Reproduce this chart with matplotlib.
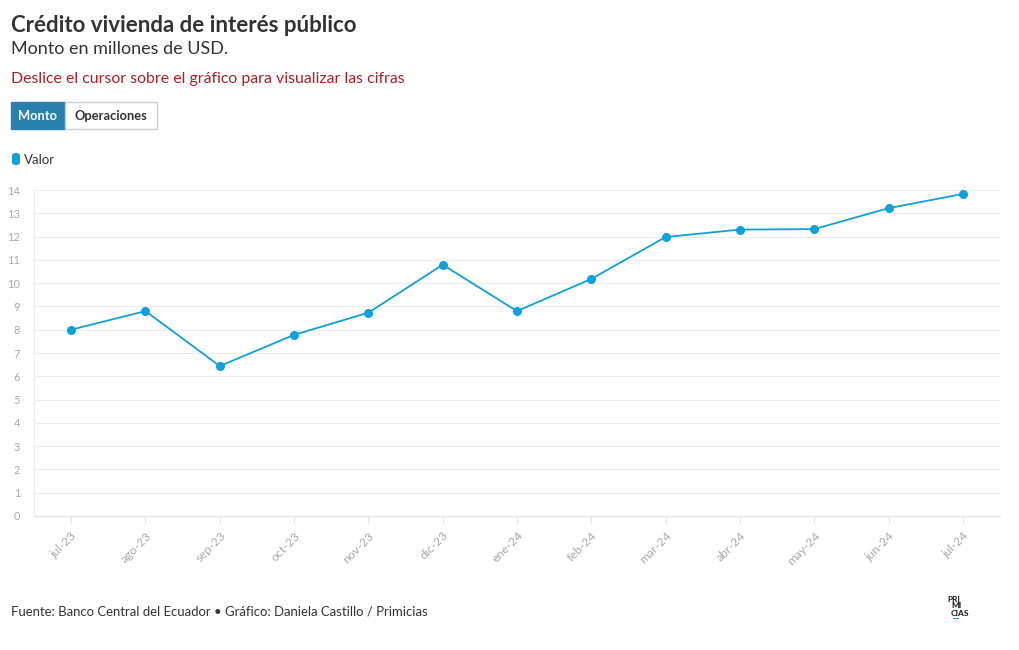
import matplotlib
matplotlib.use("Agg")
import matplotlib.pyplot as plt
from matplotlib.patches import FancyBboxPatch, Rectangle

months = ["jul-23", "ago-23", "sep-23", "oct-23", "nov-23", "dic-23", "ene-24",
          "feb-24", "mar-24", "abr-24", "may-24", "jun-24", "jul-24"]
valor = [8.0, 8.8, 6.44, 7.78, 8.73, 10.79, 8.8, 10.18, 11.98, 12.3, 12.32, 13.22, 13.83]
yticks = list(range(0, 15))

plt.rcParams['font.family'] = ['Lato', 'DejaVu Sans']

W, H = 1020, 650
fig = plt.figure(figsize=(W / 100, H / 100), dpi=100)
fig.patch.set_facecolor("white")

def fx(px):
    return px / W

def fy(py):
    return 1 - py / H

ax = fig.add_axes([fx(34), fy(516), fx(1000) - fx(34), fy(190) - fy(516)])
x = list(range(len(months)))
line_color = "#11a0d8"
ax.plot(x, valor, color=line_color, lw=1.3, marker="o", ms=5.5, mec=line_color, mfc=line_color, zorder=3, clip_on=False)
ax.set_xlim(-0.5, len(months) - 0.5)
ax.set_ylim(0, 14)
ax.set_yticks(yticks)
ax.set_yticklabels([str(v) for v in yticks], color="#aaaaaa", fontsize=8)
ax.set_xticks(x)
ax.set_xticklabels(months, rotation=45, ha="right", rotation_mode="anchor", color="#aaaaaa", fontsize=8.8)
ax.grid(axis="y", color="#ececec", lw=0.8)
ax.set_axisbelow(True)
for s in ["top", "right"]:
    ax.spines[s].set_visible(False)
ax.spines["left"].set_color("#ececec")
ax.spines["bottom"].set_color("#e6e6e6")
ax.tick_params(axis="y", length=0, pad=10)
ax.tick_params(axis="x", length=6, color="#e6e6e6", pad=4)

fig.text(fx(11), fy(25), "Crédito vivienda de interés público", fontsize=16, fontweight="bold",
         color="#333333", va="center", ha="left")
fig.text(fx(11), fy(49), "Monto en millones de USD.", fontsize=13, color="#333333", va="center", ha="left")
fig.text(fx(11), fy(79), "Deslice el cursor sobre el gráfico para visualizar las cifras", fontsize=11.4,
         color="#b01e24", va="center", ha="left")

# buttons
fig.patches.append(Rectangle((fx(11), fy(129)), fx(65) - fx(11), fy(102) - fy(129), transform=fig.transFigure,
                             facecolor="#2a80ad", edgecolor="#2a80ad", lw=1))
fig.patches.append(Rectangle((fx(65), fy(129)), fx(157) - fx(65), fy(102) - fy(129), transform=fig.transFigure,
                             facecolor="white", edgecolor="#cccccc", lw=1))
fig.text(fx(38), fy(116), "Monto", fontsize=9.3, fontweight="bold", color="white", va="center", ha="center")
fig.text(fx(111), fy(116), "Operaciones", fontsize=9.3, fontweight="bold", color="#333333", va="center", ha="center")

# legend
fig.patches.append(FancyBboxPatch((fx(12), fy(165)), fx(8), fy(153) - fy(165), transform=fig.transFigure,
                                  boxstyle="round,pad=0,rounding_size=0.004", facecolor=line_color, edgecolor="none"))
fig.text(fx(24), fy(160), "Valor", fontsize=9.5, color="#333333", va="center", ha="left")

fig.text(fx(11), fy(611), "Fuente: Banco Central del Ecuador • Gráfico: Daniela Castillo / Primicias",
         fontsize=9.45, color="#333333", va="center", ha="left")

# logo
fig.text(fx(947), fy(600), "PRI", fontsize=6, fontweight="bold", color="#111111", va="center", ha="left")
fig.text(fx(951), fy(606), "MI", fontsize=6, fontweight="bold", color="#111111", va="center", ha="left")
fig.text(fx(951), fy(613), "CIAS", fontsize=6, fontweight="bold", color="#111111", va="center", ha="left")
fig.patches.append(Rectangle((fx(953), fy(619)), fx(6), fy(618) - fy(619), transform=fig.transFigure,
                             facecolor=line_color, edgecolor="none"))

fig.savefig("out.png", dpi=100, facecolor="white")
